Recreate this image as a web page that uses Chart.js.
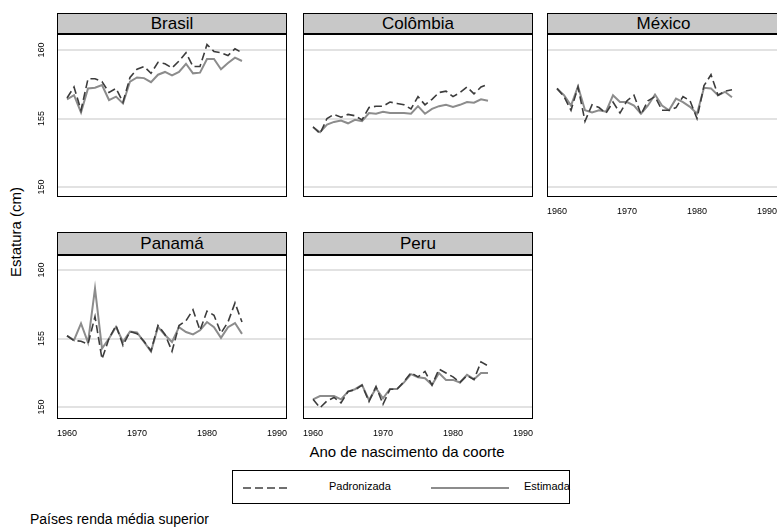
<!DOCTYPE html>
<html>
<head>
<meta charset="utf-8">
<script src="https://cdn.jsdelivr.net/npm/chart.js@4.4.0/dist/chart.umd.min.js"></script>
<style>
body { margin:0; width:777px; height:529px; background:#fff; position:relative; overflow:hidden; font-family:Arial, "Liberation Sans", sans-serif; color:#000; }
.frame { position:absolute; border:1px solid #000; box-sizing:border-box; pointer-events:none; z-index:2; }
.head { position:absolute; left:0; right:0; top:0; background:#c8c8c8; border-bottom:2px solid #000; box-sizing:border-box; text-align:center; font-size:17px; }
canvas.panel { position:absolute; z-index:1; }
#ytitle { position:absolute; left:15px; top:232px; font-size:15px; white-space:nowrap; transform:translate(-50%,-50%) rotate(-90deg); }
#xtitle { position:absolute; left:307px; top:443px; width:200px; text-align:center; font-size:15px; white-space:nowrap; }
#legend { position:absolute; left:232px; top:470px; width:338px; height:34px; border:1px solid #000; box-sizing:border-box; }
#legend svg { position:absolute; left:0; top:0; }
#legend span { position:absolute; top:9px; font-size:11px; white-space:nowrap; }
#note { position:absolute; left:30px; top:511px; font-size:14px; white-space:nowrap; }
</style>
</head>
<body>
<div id="ytitle">Estatura (cm)</div>
<div id="xtitle">Ano de nascimento da coorte</div>
<div id="legend">
  <svg width="336" height="32">
    <line x1="10" y1="17" x2="56" y2="17" stroke="#404040" stroke-width="1.6" stroke-dasharray="8 4"></line>
    <line x1="198" y1="17" x2="276" y2="17" stroke="#8c8c8c" stroke-width="2"></line>
  </svg>
  <span style="left:96px">Padronizada</span>
  <span style="left:291px">Estimada</span>
</div>
<div id="note">Países renda média superior</div>

<script>
const years = [1960, 1961, 1962, 1963, 1964, 1965, 1966, 1967, 1968, 1969, 1970, 1971, 1972,
	1973, 1974, 1975, 1976, 1977, 1978, 1979, 1980, 1981, 1982, 1983, 1984, 1985];
const xTicks = [1960, 1970, 1980, 1990];
const yTicks = [150, 155, 160];
const seriesNames = ['Padronizada', 'Estimada'];

const brasilPadronizada = [156.5, 157.3, 155.6, 157.9, 157.9, 157.7, 156.9, 157.2, 156.2, 158.0, 158.6, 158.8, 158.3,
	159.1, 159.0, 158.7, 159.2, 159.8, 158.8, 158.8, 160.4, 159.9, 159.8, 159.6, 160.1, 159.8];
const brasilEstimada = [156.4, 156.7, 155.45, 157.2, 157.25, 157.45, 156.35, 156.6, 156.1, 157.7, 158.0, 157.95, 157.65,
	158.2, 158.4, 158.15, 158.4, 159.0, 158.3, 158.35, 159.35, 159.35, 158.6, 159.05, 159.45, 159.2];

const colombiaPadronizada = [154.4, 153.9, 155.0, 155.3, 155.1, 155.3, 155.2, 154.9, 155.8, 155.9, 155.9, 156.2, 156.1,
	156.0, 155.7, 156.6, 156.0, 156.4, 156.9, 157.0, 156.6, 156.9, 157.3, 156.8, 157.3, 157.5];
const colombiaEstimada = [154.36, 154.0, 154.55, 154.75, 154.85, 154.65, 154.9, 154.8, 155.4, 155.35, 155.5, 155.4, 155.4,
	155.4, 155.35, 155.9, 155.35, 155.7, 155.9, 156.0, 155.85, 156.0, 156.2, 156.15, 156.4, 156.3];

const mexicoPadronizada = [157.2, 156.6, 155.6, 157.3, 154.8, 156.0, 155.8, 155.4, 156.2, 155.4, 156.3, 156.7, 155.3,
	156.3, 156.6, 155.6, 155.6, 155.8, 156.6, 156.3, 155.0, 157.4, 158.2, 156.7, 157.0, 157.1];
const mexicoEstimada = [157.18, 156.7, 155.95, 157.35, 155.6, 155.45, 155.6, 155.5, 156.7, 156.2, 156.2, 155.95, 155.35,
	155.95, 156.75, 155.95, 155.6, 156.45, 156.2, 155.85, 155.35, 157.25, 157.2, 156.7, 156.95, 156.55];

const panamaPadronizada = [155.2, 154.85, 154.8, 154.6, 156.6, 153.5, 155.0, 155.95, 154.5, 155.5, 155.35, 154.8, 154.1,
	155.95, 155.3, 154.07, 155.95, 156.3, 157.1, 155.6, 157.0, 156.7, 155.4, 156.2, 157.6, 156.2];
const panamaEstimada = [155.2, 154.88, 156.1, 154.7, 158.66, 154.27, 155.0, 155.85, 154.75, 155.5, 155.45, 154.75, 154.05,
	155.85, 155.25, 154.75, 155.83, 155.47, 155.3, 155.6, 156.2, 155.83, 155.05, 155.83, 156.13, 155.34];

const peruPadronizada = [150.56, 149.95, 150.45, 150.7, 150.3, 151.13, 151.25, 151.6, 150.4, 151.5, 150.2, 151.3, 151.3,
	151.85, 152.5, 152.2, 152.6, 151.6, 152.77, 152.48, 152.2, 151.8, 152.3, 152.0, 153.3, 153.0];
const peruEstimada = [150.56, 150.8, 150.8, 150.8, 150.56, 151.13, 151.3, 151.62, 150.51, 151.37, 150.64, 151.32, 151.32,
	151.8, 152.4, 152.18, 152.1, 151.62, 152.48, 151.98, 151.98, 151.79, 152.35, 152.03, 152.48, 152.48];

// panel layout (pixels) - kept apart from the data
const panels = [
	{title: 'Brasil', pad: brasilPadronizada, est: brasilEstimada, left: 57, top: 13, head: 22, bottom: 196, yMin: 149.34, yMax: 161.1, showX: false, showY: true},
	{title: 'Colômbia', pad: colombiaPadronizada, est: colombiaEstimada, left: 303, top: 13, head: 22, bottom: 196, yMin: 149.34, yMax: 161.1, showX: false, showY: false},
	{title: 'México', pad: mexicoPadronizada, est: mexicoEstimada, left: 547, top: 13, head: 22, bottom: 196, yMin: 149.34, yMax: 161.1, showX: true, showY: false, extra: 3},
	{title: 'Panamá', pad: panamaPadronizada, est: panamaEstimada, left: 57, top: 232, head: 24, bottom: 418, yMin: 149.2, yMax: 161.02, showX: true, showY: true},
	{title: 'Peru', pad: peruPadronizada, est: peruEstimada, left: 303, top: 232, head: 24, bottom: 418, yMin: 149.2, yMax: 161.02, showX: true, showY: false}
];
const panelWidth = 230;
const yAxisSpace = 40;
const xAxisSpace = 30;
const tickFont = '9px Arial, "Liberation Sans", sans-serif';

// horizontal grid lines across the whole plot box, at the y scale's ticks
const gridLines = {
	id: 'gridLines',
	beforeDatasetsDraw(chart) {
		const ctx = chart.ctx;
		const x = chart.scales.x;
		const y = chart.scales.y;
		ctx.save();
		ctx.strokeStyle = '#d9d9d9';
		ctx.lineWidth = 1.5;
		y.ticks.forEach((t) => {
			const py = Math.round(y.getPixelForValue(t.value));
			ctx.beginPath();
			ctx.moveTo(x.left, py);
			ctx.lineTo(chart.width, py);
			ctx.stroke();
		});
		ctx.restore();
	}
};

// tick labels drawn from the scales: y rotated, x below the frame
const axisLabels = {
	id: 'axisLabels',
	afterDraw(chart, args, opts) {
		const ctx = chart.ctx;
		const area = chart.chartArea;
		ctx.save();
		ctx.font = tickFont;
		ctx.fillStyle = '#000';
		ctx.textAlign = 'center';
		ctx.textBaseline = 'middle';
		if (opts.showY) {
			const y = chart.scales.y;
			y.ticks.forEach((t) => {
				ctx.save();
				ctx.translate(area.left - 15, y.getPixelForValue(t.value));
				ctx.rotate(-Math.PI / 2);
				ctx.fillText(String(t.value), 0, 0);
				ctx.restore();
			});
		}
		if (opts.showX) {
			const x = chart.scales.x;
			x.ticks.forEach((t) => {
				ctx.fillText(String(t.value), x.getPixelForValue(t.value), area.bottom + 16);
			});
		}
		ctx.restore();
	}
};

function points(values) {
	return values.map((v, i) => ({x: years[i], y: v}));
}

function renderPanel(p) {
	const plotTop = p.top + p.head;
	const plotH = p.bottom - plotTop;

	const frame = document.createElement('div');
	frame.className = 'frame';
	frame.style.left = p.left + 'px';
	frame.style.top = p.top + 'px';
	frame.style.width = (panelWidth + (p.extra || 0)) + 'px';
	frame.style.height = (p.bottom - p.top + 1) + 'px';
	const head = document.createElement('div');
	head.className = 'head';
	head.style.height = (p.head - 1) + 'px';
	head.style.lineHeight = (p.head - 3) + 'px';
	head.textContent = p.title;
	frame.appendChild(head);
	document.body.appendChild(frame);

	const canvas = document.createElement('canvas');
	canvas.className = 'panel';
	canvas.width = panelWidth + yAxisSpace;
	canvas.height = plotH + xAxisSpace;
	canvas.style.left = (p.left - yAxisSpace) + 'px';
	canvas.style.top = plotTop + 'px';
	document.body.appendChild(canvas);

	new Chart(canvas, {
		type: 'line',
		data: {
			datasets: [
				{
					label: seriesNames[0],
					data: points(p.pad),
					borderColor: '#3c3c3c',
					borderWidth: 1.6,
					borderDash: [8, 4],
					pointRadius: 0,
					tension: 0,
					fill: false
				},
				{
					label: seriesNames[1],
					data: points(p.est),
					borderColor: '#8c8c8c',
					borderWidth: 2,
					pointRadius: 0,
					tension: 0,
					fill: false
				}
			]
		},
		options: {
			responsive: false,
			animation: false,
			devicePixelRatio: 1,
			layout: {padding: 0, autoPadding: false},
			plugins: {
				legend: {display: false},
				tooltip: {enabled: false},
				axisLabels: {showY: p.showY, showX: p.showX}
			},
			scales: {
				x: {
					type: 'linear',
					min: 1958.57,
					max: 1991.43,
					afterBuildTicks: (s) => { s.ticks = xTicks.map((v) => ({value: v})); },
					afterFit: (s) => { s.height = xAxisSpace; },
					grid: {display: false, drawTicks: false},
					border: {display: false},
					ticks: {display: false}
				},
				y: {
					type: 'linear',
					min: p.yMin,
					max: p.yMax,
					afterBuildTicks: (s) => { s.ticks = yTicks.map((v) => ({value: v})); },
					afterFit: (s) => { s.width = yAxisSpace; },
					grid: {display: false, drawTicks: false},
					border: {display: false},
					ticks: {display: false}
				}
			}
		},
		plugins: [gridLines, axisLabels]
	});
}

panels.forEach(renderPanel);
</script>
</body>
</html>
